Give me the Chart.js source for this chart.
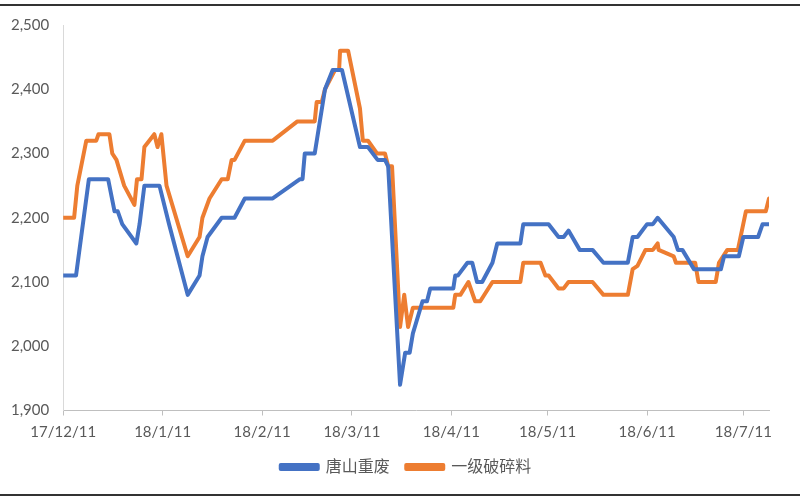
<!DOCTYPE html>
<html>
<head>
<meta charset="utf-8">
<script src="https://cdn.jsdelivr.net/npm/chart.js@4/dist/chart.umd.min.js"></script>
<style>
  html, body { margin: 0; padding: 0; background: #fff; }
  #wrap { position: absolute; left: 0; top: 0; width: 800px; height: 500px; }
  #topline { position: absolute; left: 0; top: 4px; width: 800px; height: 2px; background: #333; }
  #botline { position: absolute; left: 0; top: 494px; width: 800px; height: 2px; background: #333; }
</style>
</head>
<body>
<div id="wrap"><canvas id="c" width="800" height="500"></canvas></div>
<div id="topline"></div>
<div id="botline"></div>
<script>
// Days counted from 2017-12-11
const tickDays   = [0, 31, 62, 90, 121, 151, 182, 212];
const tickLabels = ['17/12/11', '18/1/11', '18/2/11', '18/3/11', '18/4/11', '18/5/11', '18/6/11', '18/7/11'];

const seriesNames = ['唐山重废', '一级破碎料'];

const blueDays = [0, 4, 8, 14, 16, 17, 18.4, 22.8, 23.8, 25.3, 30, 33, 38.8, 42.5, 43.4, 45, 49.4, 53.4, 56.6, 65.3, 73.8, 74.6, 75.3, 78.4, 81.6, 84, 86.9, 92.5, 95, 98, 100.3, 101.3, 105, 106.6, 108, 109, 112, 113.4, 114.4, 121.6, 122.2, 123, 126, 127.5, 129, 130.6, 133.8, 135.3, 142.5, 143.4, 151.3, 154.4, 156, 157.5, 161, 165, 168.4, 176, 177.5, 179, 182, 183.8, 185.3, 190.3, 191.6, 193, 196.6, 205, 206, 210.6, 212, 216.6, 218, 220];
const blueValues = [2110, 2110, 2260, 2260, 2210, 2210, 2190, 2160, 2190, 2250, 2250, 2190, 2080, 2110, 2140, 2170, 2200, 2200, 2230, 2230, 2260, 2260, 2300, 2300, 2400, 2430, 2430, 2310, 2310, 2290, 2290, 2280, 1940, 1990, 1990, 2020, 2070, 2070, 2090, 2090, 2110, 2110, 2130, 2130, 2100, 2100, 2130, 2160, 2160, 2190, 2190, 2170, 2170, 2180, 2150, 2150, 2130, 2130, 2170, 2170, 2190, 2190, 2200, 2170, 2150, 2150, 2120, 2120, 2140, 2140, 2170, 2170, 2190, 2190];

const orangeDays = [0, 3.4, 4.4, 7.2, 10.3, 11, 14.4, 15.3, 16.6, 19, 22.2, 23, 24.4, 25.3, 28.4, 29.4, 30.6, 32.2, 38.8, 42.5, 43.4, 45.6, 49.4, 51.3, 52.5, 53.4, 56.6, 65.3, 73, 78.4, 79, 80.6, 81.6, 84.7, 86, 86.3, 88.8, 92.5, 93.4, 95, 97.8, 100.3, 101.3, 102.5, 105, 106.3, 107.5, 109, 121.6, 122.2, 123.8, 126.3, 128.4, 130, 133.8, 142.5, 143.4, 148.8, 150.3, 151.3, 154.4, 156, 157.5, 165, 168.4, 176, 177.5, 179, 181.5, 183.8, 185.3, 185.6, 190.3, 191, 197, 198, 203.4, 204.4, 207, 210.3, 212.8, 219, 220];
const orangeValues = [2200, 2200, 2250, 2320, 2320, 2330, 2330, 2300, 2290, 2250, 2220, 2260, 2260, 2310, 2330, 2310, 2330, 2250, 2140, 2170, 2200, 2230, 2260, 2260, 2290, 2290, 2320, 2320, 2350, 2350, 2380, 2380, 2400, 2430, 2430, 2460, 2460, 2370, 2320, 2320, 2300, 2300, 2280, 2280, 2030, 2080, 2030, 2060, 2060, 2080, 2080, 2100, 2070, 2070, 2100, 2100, 2130, 2130, 2110, 2110, 2090, 2090, 2100, 2100, 2080, 2080, 2120, 2125, 2150, 2150, 2160, 2150, 2140, 2130, 2130, 2100, 2100, 2130, 2150, 2150, 2210, 2210, 2230];

const toPoints = (xs, ys) => xs.map((x, i) => ({ x: x, y: ys[i] }));
const textColor = '#595959';
const fontFamily = 'Lato, "Noto Sans CJK SC", sans-serif';

// shift the centred legend a little to the right, as in the original
const legendShift = {
  id: 'legendShift',
  afterLayout(chart) { if (chart.legend) { chart.legend.left += 38; } }
};

new Chart(document.getElementById('c'), {
  type: 'line',
  data: {
    datasets: [
      { label: seriesNames[0], data: toPoints(blueDays, blueValues), borderColor: '#4472C4', backgroundColor: '#4472C4', borderWidth: 4, pointRadius: 0, tension: 0, borderJoinStyle: 'round', borderCapStyle: 'round' },
      { label: seriesNames[1], data: toPoints(orangeDays, orangeValues), borderColor: '#ED7D31', backgroundColor: '#ED7D31', borderWidth: 4, pointRadius: 0, tension: 0, borderJoinStyle: 'round', borderCapStyle: 'round' }
    ]
  },
  plugins: [legendShift],
  options: {
    responsive: false,
    animation: false,
    events: [],
    layout: { padding: { top: 25, right: 31, left: 5, bottom: 15 } },
    plugins: {
      legend: {
        position: 'bottom',
        labels: {
          boxWidth: 37, boxHeight: 4, color: textColor, padding: 16.5,
          font: { family: fontFamily, size: 16 }
        }
      },
      tooltip: { enabled: false }
    },
    scales: {
      x: {
        type: 'linear', min: 0, max: 220,
        afterBuildTicks: (axis) => { axis.ticks = tickDays.map(v => ({ value: v })); },
        afterFit: (scale) => { scale.height -= 7; },
        ticks: {
          autoSkip: false, maxRotation: 0, color: textColor, padding: 8,
          font: { family: fontFamily, size: 15 },
          callback: (v) => { const i = tickDays.indexOf(v); return i >= 0 ? tickLabels[i] : ''; }
        },
        grid: { drawOnChartArea: false, drawTicks: true, tickLength: 5, color: '#BFBFBF' },
        border: { color: '#BFBFBF', width: 1 }
      },
      y: {
        min: 1900, max: 2500,
        ticks: { stepSize: 100, color: textColor, padding: 6, font: { family: fontFamily, size: 15 } },
        grid: { display: false },
        border: { display: true, color: '#D9D9D9', width: 1 }
      }
    }
  }
});
</script>
</body>
</html>
